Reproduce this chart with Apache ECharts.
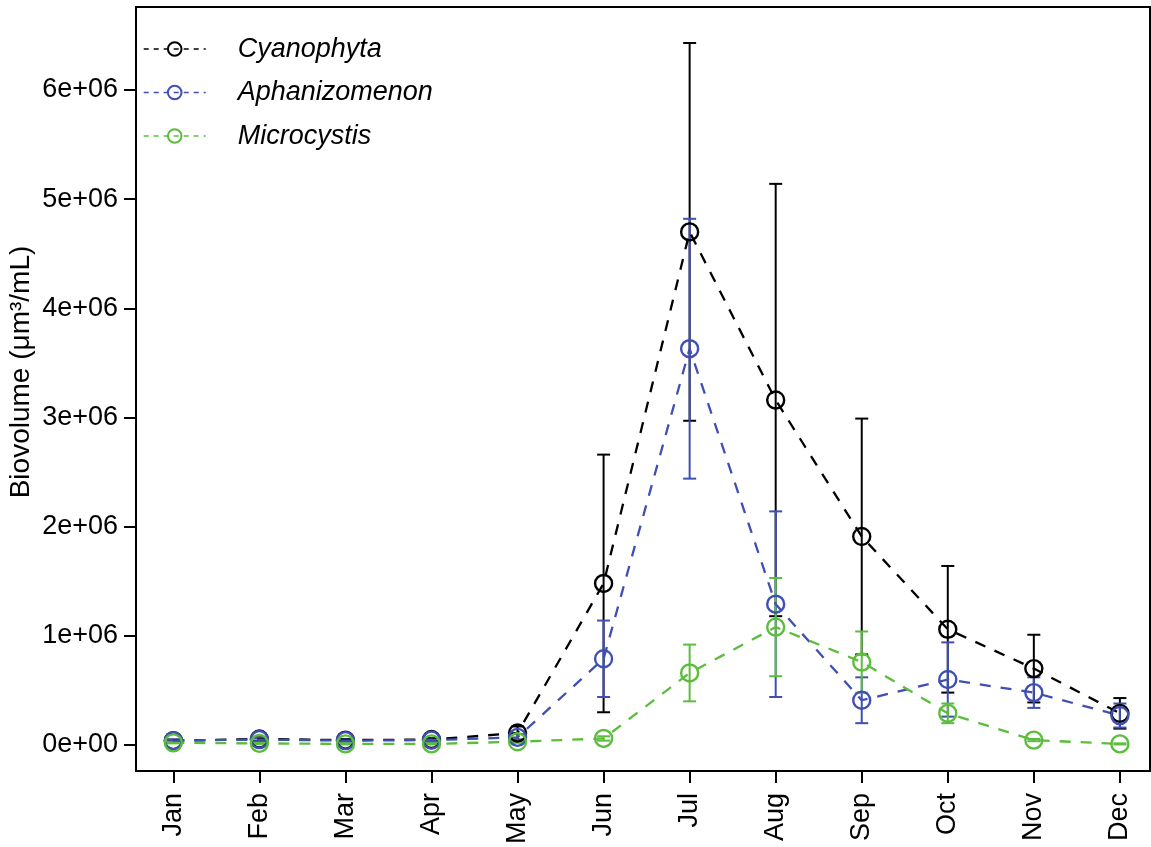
<!DOCTYPE html>
<html>
<head>
<meta charset="utf-8">
<script src="https://cdn.jsdelivr.net/npm/echarts@6/dist/echarts.min.js"></script>
<style>
html,body{margin:0;padding:0;background:#fff;}
#chart{width:1151px;height:847px;}
</style>
</head>
<body>
<div id="chart"></div>
<script>
const months = ['Jan','Feb','Mar','Apr','May','Jun','Jul','Aug','Sep','Oct','Nov','Dec'];
const yTickValues = [0, 1e6, 2e6, 3e6, 4e6, 5e6, 6e6];
const yTickLabels = ['0e+00','1e+06','2e+06','3e+06','4e+06','5e+06','6e+06'];

const cyanoMean = [40000, 55000, 45000, 50000, 110000, 1480000, 4700000, 3160000, 1910000, 1060000, 700000, 290000];
const cyanoErr  = [10000, 15000, 10000, 15000, 60000, 1180000, 1730000, 1980000, 1080000, 580000, 310000, 140000];
const aphanMean = [40000, 50000, 40000, 45000, 70000, 790000, 3630000, 1290000, 410000, 600000, 480000, 270000];
const aphanErr  = [10000, 15000, 10000, 15000, 30000, 350000, 1190000, 850000, 210000, 340000, 140000, 110000];
const microMean = [20000, 15000, 10000, 10000, 30000, 60000, 660000, 1080000, 760000, 290000, 45000, 10000];
const microErr  = [5000, 5000, 5000, 5000, 10000, 20000, 260000, 450000, 280000, 90000, 10000, 5000];

const seriesDefs = [
  {name:'Cyanophyta', color:'#000000', mean:cyanoMean, err:cyanoErr},
  {name:'Aphanizomenon', color:'#3f4fb3', mean:aphanMean, err:aphanErr},
  {name:'Microcystis', color:'#5cbd3d', mean:microMean, err:microErr}
];

const FONT = '"Liberation Sans", Arial, Helvetica, sans-serif';
const xIdx = months.map((m,i)=>i+1);

const series = [];
seriesDefs.forEach(s => {
  series.push({
    name: s.name,
    type: 'line',
    data: s.mean.map((v,i)=>[xIdx[i], v]),
    symbol: 'circle',
    symbolSize: 17,
    itemStyle: {color: 'rgba(0,0,0,0)', borderColor: s.color, borderWidth: 2.4},
    lineStyle: {color: s.color, width: 2.3, type: [11, 10]},
    color: s.color,
    emphasis: {disabled: true},
    z: 3
  });
  series.push({
    name: s.name + ' err',
    type: 'custom',
    data: s.mean.map((v,i)=>[xIdx[i], v - s.err[i], v + s.err[i]]),
    encode: {x: 0, y: [1, 2]},
    renderItem: function(params, api){
      const x = api.value(0);
      const lo = api.coord([x, api.value(1)]);
      const hi = api.coord([x, api.value(2)]);
      const hw = 6.5;
      const st = {stroke: s.color, lineWidth: 2};
      return {type:'group', children:[
        {type:'line', shape:{x1:lo[0], y1:lo[1], x2:hi[0], y2:hi[1]}, style:st},
        {type:'line', shape:{x1:hi[0]-hw, y1:hi[1], x2:hi[0]+hw, y2:hi[1]}, style:st},
        {type:'line', shape:{x1:lo[0]-hw, y1:lo[1], x2:lo[0]+hw, y2:lo[1]}, style:st}
      ]};
    },
    z: 3
  });
});

const chart = echarts.init(document.getElementById('chart'));
chart.setOption({
  animation: false,
  backgroundColor: '#fff',
  grid: {left: 136, right: 1, top: 7, bottom: 76, show: true, borderColor: '#000', borderWidth: 2, backgroundColor: 'transparent'},
  xAxis: {
    type: 'value', min: 0.566, max: 12.35,
    axisLine: {show: false, onZero: false},
    splitLine: {show: false},
    axisTick: {show: true, customValues: xIdx, length: 12, lineStyle: {color: '#000', width: 2}},
    axisLabel: {
      customValues: xIdx, rotate: 90, margin: 22,
      formatter: v => months[Math.round(v)-1],
      fontSize: 27, fontFamily: FONT, color: '#000'
    }
  },
  yAxis: {
    type: 'value', min: -238000, max: 6760000,
    axisLine: {show: false, onZero: false},
    splitLine: {show: false},
    axisTick: {show: true, customValues: yTickValues, length: 12, lineStyle: {color: '#000', width: 2}},
    axisLabel: {
      customValues: yTickValues, margin: 18,
      formatter: v => yTickLabels[yTickValues.indexOf(v)],
      fontSize: 27, fontFamily: FONT, color: '#000'
    }
  },
  legend: {
    data: seriesDefs.map(s=>s.name),
    orient: 'vertical',
    left: 143, top: 34, padding: 0,
    itemWidth: 62, itemHeight: 17, itemGap: 13.5,
    selectedMode: false,
    textStyle: {fontSize: 27, fontStyle: 'italic', fontFamily: FONT, color: '#000', lineHeight: 30, padding: [0,0,0,27]},
    lineStyle: {type: [5, 5], width: 1.4}
  },
  graphic: [{
    type: 'text', x: 21, y: 372, rotation: Math.PI/2,
    style: {text: 'Biovolume (μm³/mL)', fontSize: 28, fontFamily: FONT, fill: '#000', textAlign: 'center', textVerticalAlign: 'middle', align: 'center', verticalAlign: 'middle'}
  }],
  series: series
});
</script>
</body>
</html>
